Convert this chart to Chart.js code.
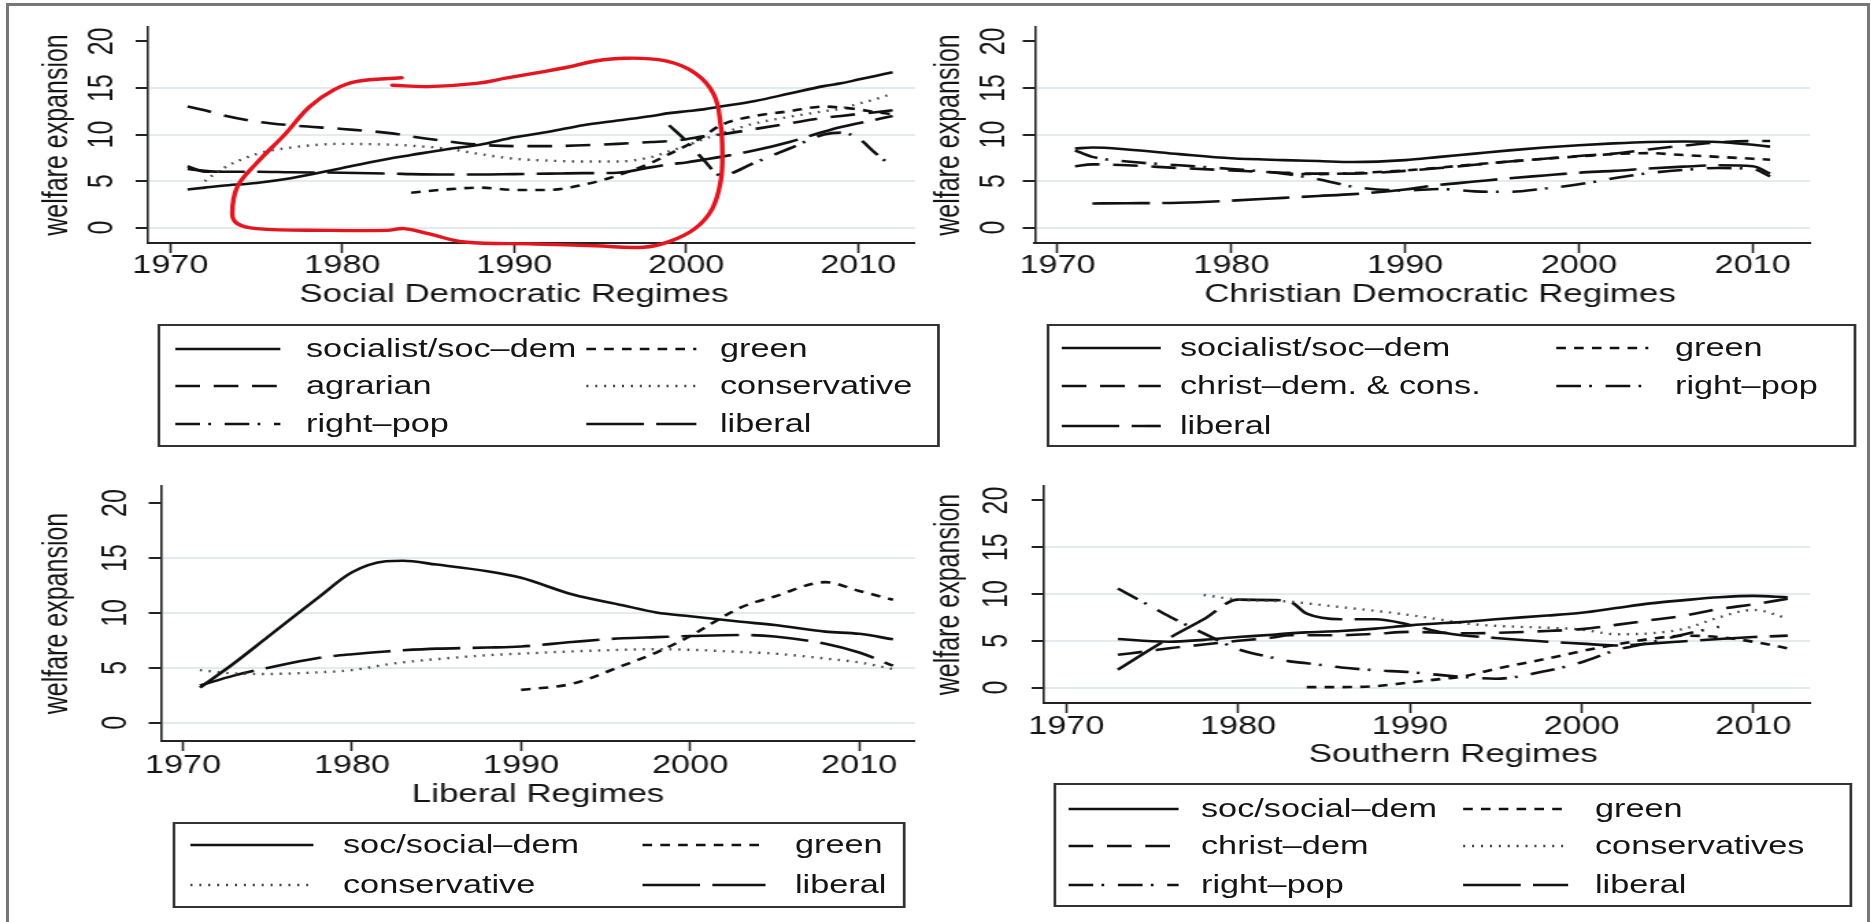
<!DOCTYPE html>
<html>
<head>
<meta charset="utf-8">
<script src="https://cdn.jsdelivr.net/npm/chart.js@4.4.1/dist/chart.umd.min.js"></script>
<style>
  html, body { margin: 0; padding: 0; background: #fff; overflow: hidden; width: 1871px; height: 922px; }
  #frame { position: absolute; left: 6px; top: 3px; width: 1858px; height: 960px; border: 3px solid #777; border-bottom: none; }
  #stage { position: absolute; left: 0; top: 0; height: 922px; transform-origin: 0 0;
           font-family: "Liberation Sans", Arial, sans-serif; color: #141414; }
  #stage canvas { position: absolute; }
  .lgbox { position: absolute; border: 2px solid #333; box-sizing: border-box; }
  .lgtext { position: absolute; font-size: 25px; line-height: 25px; white-space: nowrap; }
  .lgline { position: absolute; overflow: visible; }
</style>
</head>
<body>
<div id="frame"></div>
<div id="stage"></div>
<script>
// ---- data ----
const xTicks = [1970, 1980, 1990, 2000, 2010];
const yTicks = [0, 5, 10, 15, 20];

// Social Democratic Regimes
const sdYears = [1971, 1972, 1973, 1975, 1977, 1980, 1983, 1984, 1986, 1988, 1990, 1992, 1994, 1996, 1998, 1999, 2000, 2001, 2002, 2004, 2006, 2008, 2009, 2010, 2011, 2012];
const sdSocDem = [4.1, 4.3, 4.5, 4.8, 5.3, 6.4, 7.5, 7.8, 8.4, 8.9, 9.7, 10.3, 11.0, 11.5, 12.0, 12.3, 12.5, 12.7, 13.0, 13.6, 14.4, 15.2, 15.5, 15.9, 16.3, 16.7];
const sdGreen = [null, null, null, null, null, null, null, 3.75, 4.1, 4.3, 4.05, 4.05, 4.6, 5.6, 7.0, 7.9, 8.8, 9.8, 11.0, 12.0, 12.5, 13.0, 12.9, 12.7, 12.4, 12.2];
const sdAgrarian = [13.0, 12.6, 12.1, 11.4, 11.0, 10.6, 10.1, 9.8, 9.3, 8.9, 8.75, 8.75, 8.85, 9.0, 9.2, 9.3, 9.5, 9.8, 10.0, 10.6, 11.2, 11.8, 12.0, 12.2, 12.4, 12.6];
const sdConservative = [null, 5.0, 6.3, 7.9, 8.6, 9.0, 8.9, 8.8, 8.5, 7.9, 7.4, 7.2, 7.1, 7.1, 7.6, 8.2, 8.8, 9.5, 10.1, 11.2, 11.9, 12.5, 12.8, 13.3, 13.8, 14.4];
const sdRightPop = [6.6, 6.0, 6.0, null, null, null, null, null, null, null, null, null, null, null, null, 11.0, 9.3, 7.3, 5.6, 7.0, 8.5, 10.0, 10.2, 9.6, 8.0, 6.5];
const sdLiberal = [6.3, 6.1, 6.0, 6.0, 5.95, 5.9, 5.8, 5.75, 5.7, 5.7, 5.75, 5.8, 5.85, 5.9, 6.5, 6.8, 7.0, 7.3, 7.6, 8.3, 9.2, 10.3, 10.8, 11.2, 11.6, 12.0];
// red hand-drawn loop over the first panel (year, value)
const loopYears = [1983.45, 1980.85, 1979.5, 1978.1, 1976.7, 1975.0, 1973.9, 1973.6, 1973.9, 1975.0, 1979.1, 1982.6, 1983.6, 1985.0, 1987.1, 1991.2, 1994.7, 1997.5, 1999.0, 2000.5, 2001.5, 2002.0, 2002.1, 2002.0, 2001.6, 2000.5, 1998.8, 1996.4, 1994.7, 1993.0, 1991.2, 1989.5, 1987.8, 1985.0, 1982.9];
const loopVals = [16.1, 15.7, 14.8, 13.0, 10.1, 6.9, 4.4, 1.5, 0.43, -0.1, -0.29, -0.29, -0.1, -0.65, -1.54, -1.75, -1.95, -2.1, -1.5, -0.1, 2.0, 5.0, 8.0, 11.0, 14.3, 16.6, 17.9, 18.2, 17.9, 17.2, 16.6, 16.05, 15.5, 15.15, 15.3];

// Christian Democratic Regimes
const cdYears = [1971, 1972, 1974, 1977, 1980, 1983, 1985, 1987, 1990, 1992, 1994, 1996, 1998, 2000, 2002, 2004, 2006, 2008, 2010, 2011];
const cdSocDem = [8.5, 8.6, 8.4, 7.9, 7.45, 7.25, 7.15, 7.05, 7.25, 7.6, 7.95, 8.3, 8.6, 8.85, 9.05, 9.2, 9.25, 9.2, 8.9, 8.7];
const cdGreen = [null, null, null, null, null, 5.8, 5.75, 5.85, 6.15, 6.45, 6.8, 7.1, 7.4, 7.65, 7.9, 8.0, 7.8, 7.6, 7.4, 7.3];
const cdChristDem = [6.6, 6.8, 6.7, 6.4, 6.15, 5.9, 5.8, 5.8, 6.1, 6.4, 6.75, 7.1, 7.4, 7.7, 7.95, 8.4, 8.8, 9.15, 9.3, 9.3];
const cdRightPop = [8.3, 7.6, 7.1, 6.7, 6.3, 5.8, 5.2, 4.4, 4.0, 4.15, 3.9, 3.85, 4.2, 4.65, 5.3, 5.85, 6.2, 6.4, 6.3, 5.5];
const cdLiberal = [null, 2.6, 2.62, 2.68, 2.9, 3.2, 3.4, 3.6, 4.1, 4.6, 4.95, 5.3, 5.6, 5.9, 6.1, 6.35, 6.55, 6.7, 6.6, 5.8];

// Liberal Regimes
const lbYears = [1971, 1973, 1975, 1978, 1980, 1982, 1983, 1985, 1988, 1990, 1993, 1996, 1998, 2000, 2003, 2005, 2008, 2010, 2012];
const lbSocDem = [3.2, 5.4, 7.8, 11.4, 13.7, 14.7, 14.75, 14.4, 13.8, 13.2, 11.7, 10.7, 10.05, 9.7, 9.2, 8.9, 8.3, 8.1, 7.6];
const lbGreen = [null, null, null, null, null, null, null, null, null, 3.0, 3.55, 5.2, 6.4, 7.9, 10.5, 11.5, 12.8, 12.0, 11.2];
const lbConservative = [4.8, 4.5, 4.45, 4.6, 4.8, 5.3, 5.5, 5.8, 6.15, 6.3, 6.5, 6.65, 6.7, 6.65, 6.45, 6.3, 5.85, 5.5, 4.9];
const lbLiberal = [3.4, 4.3, 5.0, 5.9, 6.25, 6.5, 6.6, 6.75, 6.85, 6.95, 7.35, 7.7, 7.8, 7.9, 8.0, 7.85, 7.2, 6.4, 5.2];

// Southern Regimes
const soYears = [1973, 1975, 1976, 1978, 1980, 1982, 1983, 1984, 1986, 1988, 1990, 1992, 1993, 1995, 1998, 2000, 2002, 2004, 2006, 2008, 2010, 2012];
const soSocDem = [5.2, 4.95, 4.9, 5.1, 5.4, 5.65, 5.8, 5.9, 6.05, 6.3, 6.65, 6.9, 7.0, 7.3, 7.7, 8.0, 8.5, 9.0, 9.35, 9.65, 9.8, 9.65];
const soGreen = [null, null, null, null, null, null, null, 0.05, 0.05, 0.15, 0.55, 0.95, 1.15, 2.0, 3.1, 3.9, 4.6, 5.2, 5.55, 5.4, 4.9, 4.2];
const soChristDem = [3.5, 3.95, 4.2, 4.6, 5.0, 5.35, 5.6, 5.6, 5.6, 5.75, 5.95, 5.85, 5.8, 5.85, 6.05, 6.25, 6.7, 7.2, 7.7, 8.4, 8.9, 9.5];
const soConservatives = [null, null, null, 9.9, 9.4, 9.25, 9.2, 9.0, 8.6, 8.2, 7.75, 7.2, 6.9, 6.6, 6.4, 6.2, 5.7, 5.8, 6.3, 7.5, 8.3, 7.4];
const soRightPop = [10.6, 8.6, 7.6, 5.8, 4.1, 3.2, 2.8, 2.6, 2.15, 1.85, 1.65, 1.3, 1.15, 0.95, 1.8, 2.7, 4.0, 4.8, 5.7, 6.5, null, null];
const soLiberal = [1.9, 4.2, 5.3, 7.3, 9.4, 9.35, 9.2, 7.9, 7.3, 7.3, 6.7, 5.85, 5.6, 5.3, 4.9, 4.7, 4.5, 4.7, 4.95, 5.2, 5.4, 5.55];

// ---- styling ----
// the picture is stretched sideways, so the page is drawn narrow and scaled in x
const S = 1.37;
const INK = '#141414';
const EN = '\u2002';   // en space, used to nudge the axis titles off centre like the original
const styles = {
    solid:   { dash: [],              color: '#111', width: 2.6 },
    short:   { dash: [7, 6],          color: '#111', width: 2.6 },
    medium:  { dash: [18, 10],        color: '#111', width: 2.6 },
    dot:     { dash: [1.5, 5],        color: '#444', width: 2.4 },
    dashdot: { dash: [18, 6, 2, 10],  color: '#111', width: 2.6 },
    long:    { dash: [42, 9],         color: '#111', width: 2.6 }
};

Chart.defaults.font.family = '"Liberation Sans", Arial, sans-serif';
Chart.defaults.color = INK;

const panels = [
    {
        title: 'Social Democratic Regimes' + EN + EN, years: sdYears,
        series: [
            { label: 'socialist/soc\u2013dem', values: sdSocDem, style: 'solid' },
            { label: 'green', values: sdGreen, style: 'short' },
            { label: 'agrarian', values: sdAgrarian, style: 'medium' },
            { label: 'conservative', values: sdConservative, style: 'dot' },
            { label: 'right\u2013pop', values: sdRightPop, style: 'dashdot' },
            { label: 'liberal', values: sdLiberal, style: 'long' }
        ],
        loop: true,
        geom: { cx: 0, cy: 0, cw: 935, ch: 320, L: 148, R: 915, T: 27, B: 243, yTickX: 103, yTitleX: 58, xTickY: 266, xTitleY: 295 },
        legend: { l: 158, t: 324, r: 940, b: 447, rows: [350, 387, 425], cols: [[175, 280, 306], [586, 696, 720]] }
    },
    {
        title: EN + EN + 'Christian Democratic Regimes', years: cdYears,
        series: [
            { label: 'socialist/soc\u2013dem', values: cdSocDem, style: 'solid' },
            { label: 'green', values: cdGreen, style: 'short' },
            { label: 'christ\u2013dem. & cons.', values: cdChristDem, style: 'medium' },
            { label: 'right\u2013pop', values: cdRightPop, style: 'dashdot' },
            { label: 'liberal', values: cdLiberal, style: 'long' }
        ],
        geom: { cx: 922, cy: 0, cw: 949, ch: 320, L: 1035, R: 1810, T: 27, B: 243, yTickX: 995, yTitleX: 950, xTickY: 266, xTitleY: 295 },
        legend: { l: 1047, t: 324, r: 1856, b: 447, rows: [349, 387, 427], cols: [[1062, 1161, 1180], [1556, 1648, 1675]] }
    },
    {
        title: 'Liberal Regimes', years: lbYears,
        series: [
            { label: 'soc/social\u2013dem', values: lbSocDem, style: 'solid' },
            { label: 'green', values: lbGreen, style: 'short' },
            { label: 'conservative', values: lbConservative, style: 'dot' },
            { label: 'liberal', values: lbLiberal, style: 'long' }
        ],
        geom: { cx: 0, cy: 450, cw: 935, ch: 362, L: 161, R: 915, T: 486, B: 741, yTickX: 116, yTitleX: 58, xTickY: 766, xTitleY: 795 },
        legend: { l: 173, t: 822, r: 905, b: 908, rows: [846, 886], cols: [[190, 313, 343], [642, 765, 795]] }
    },
    {
        title: EN + EN + EN + 'Southern Regimes', years: soYears,
        series: [
            { label: 'soc/social\u2013dem', values: soSocDem, style: 'solid' },
            { label: 'green', values: soGreen, style: 'short' },
            { label: 'christ\u2013dem', values: soChristDem, style: 'medium' },
            { label: 'conservatives', values: soConservatives, style: 'dot' },
            { label: 'right\u2013pop', values: soRightPop, style: 'dashdot' },
            { label: 'liberal', values: soLiberal, style: 'long' }
        ],
        geom: { cx: 922, cy: 450, cw: 949, ch: 325, L: 1044, R: 1810, T: 486, B: 703, yTickX: 998, yTitleX: 950, xTickY: 727, xTitleY: 755 },
        legend: { l: 1054, t: 783, r: 1852, b: 907, rows: [810, 847, 886], cols: [[1069, 1179, 1201], [1463, 1568, 1595]] }
    }
];

const stage = document.getElementById('stage');
stage.style.width = (1871 / S) + 'px';
stage.style.transform = 'scaleX(' + S + ')';

let buildChart = function (p) {
    const g = p.geom;
    const cw = Math.round(g.cw / S), ch = g.ch;
    const canvas = document.createElement('canvas');
    canvas.width = cw;
    canvas.height = ch;
    canvas.style.left = (g.cx / S) + 'px';
    canvas.style.top = g.cy + 'px';
    canvas.style.width = cw + 'px';
    canvas.style.height = ch + 'px';
    stage.appendChild(canvas);

    const L = (g.L - g.cx) / S, R = (g.R - g.cx) / S, T = g.T - g.cy, B = g.B - g.cy;
    const yTickLen = 9, xTickLen = 10, fs = 25, titleFs = 25.5;
    const halfWidest = fs * 0.556;               // half of a two digit label
    const yTickPad = L - yTickLen - halfWidest - (g.yTickX - g.cx) / S;
    const yTitlePad = (g.yTitleX - g.cx) / S - fs * 1.2 / 2;
    const xTickPad = (g.xTickY - g.cy) - B - xTickLen - fs / 2;
    const xTitlePad = ch - (g.xTitleY - g.cy) - titleFs * 1.2 / 2;

    const datasets = p.series.map(function (s) {
        const st = styles[s.style];
        return {
            label: s.label,
            data: p.years.map((yr, i) => ({ x: yr, y: s.values[i] })),
            borderColor: st.color,
            borderDash: st.dash,
            borderWidth: st.width,
            pointRadius: 0,
            fill: false,
            spanGaps: false,
            cubicInterpolationMode: 'monotone'
        };
    });

    if (p.loop) {
        datasets.push({
            label: 'marker',
            data: loopYears.map((yr, i) => ({ x: yr, y: loopVals[i] })),
            borderColor: '#e3161f',
            borderWidth: 3.4,
            tension: 0.4,
            pointRadius: 0,
            clip: false,
            order: -1,
            borderCapStyle: 'round',
            borderJoinStyle: 'round'
        });
    }

    new Chart(canvas.getContext('2d'), {
        type: 'line',
        data: { datasets: datasets },
        options: {
            responsive: false,
            animation: false,
            devicePixelRatio: 1,
            layout: { padding: { left: 0, top: T, right: cw - R, bottom: 0 } },
            plugins: { legend: { display: false }, tooltip: { enabled: false } },
            scales: {
                x: {
                    type: 'linear', min: 1968.7, max: 2013.3,
                    afterBuildTicks: s => { s.ticks = xTicks.map(v => ({ value: v })); },
                    afterFit: s => { s.height = ch - B; },
                    grid: { drawOnChartArea: false, drawTicks: true, tickLength: xTickLen, tickColor: '#222', tickWidth: 1.6 },
                    border: { display: true, color: '#222', width: 2 },
                    ticks: { color: INK, font: { size: fs, lineHeight: 1 }, padding: xTickPad, maxRotation: 0, autoSkip: false, callback: v => String(v) },
                    title: { display: true, text: p.title, color: INK, font: { size: titleFs }, padding: { top: 0, bottom: xTitlePad } }
                },
                y: {
                    type: 'linear', min: -1.65, max: 21.55,
                    afterBuildTicks: s => { s.ticks = yTicks.map(v => ({ value: v })); },
                    afterFit: s => { s.width = L; },
                    grid: {
                        color: c => (c.tick && c.tick.value === 20) ? 'rgba(0,0,0,0)' : '#e3ebee',
                        lineWidth: 2, drawTicks: true, tickLength: yTickLen, tickColor: '#222', tickWidth: 2
                    },
                    border: { display: true, color: '#222', width: 1.6 },
                    ticks: { color: INK, font: { size: fs }, padding: yTickPad, minRotation: 90, maxRotation: 90, crossAlign: 'center', autoSkip: false },
                    title: { display: true, text: 'welfare expansion', color: INK, font: { size: fs }, padding: { top: yTitlePad, bottom: 0 } }
                }
            }
        }
    });
};

let buildLegend = function (p) {
    const lg = p.legend;
    const box = document.createElement('div');
    box.className = 'lgbox';
    box.style.left = (lg.l / S) + 'px';
    box.style.top = lg.t + 'px';
    box.style.width = ((lg.r - lg.l) / S) + 'px';
    box.style.height = (lg.b - lg.t) + 'px';
    stage.appendChild(box);

    p.series.forEach(function (s, i) {
        const rowY = lg.rows[Math.floor(i / 2)];
        const col = lg.cols[i % 2];
        const st = styles[s.style];
        const w = (col[1] - col[0]) / S;

        const svg = document.createElementNS('http://www.w3.org/2000/svg', 'svg');
        svg.setAttribute('class', 'lgline');
        svg.setAttribute('width', w);
        svg.setAttribute('height', 6);
        svg.style.left = (col[0] / S) + 'px';
        svg.style.top = (rowY - 4) + 'px';
        const line = document.createElementNS('http://www.w3.org/2000/svg', 'line');
        line.setAttribute('x1', 0);
        line.setAttribute('x2', w);
        line.setAttribute('y1', 3);
        line.setAttribute('y2', 3);
        line.setAttribute('stroke', st.color);
        line.setAttribute('stroke-width', st.width);
        if (st.dash.length) line.setAttribute('stroke-dasharray', st.dash.join(' '));
        svg.appendChild(line);
        stage.appendChild(svg);

        const txt = document.createElement('span');
        txt.className = 'lgtext';
        txt.textContent = s.label;
        txt.style.left = (col[2] / S) + 'px';
        txt.style.top = (rowY - 14.5) + 'px';
        stage.appendChild(txt);
    });
};

panels.forEach(function (p) {
    buildChart(p);
    buildLegend(p);
});
</script>
</body>
</html>
